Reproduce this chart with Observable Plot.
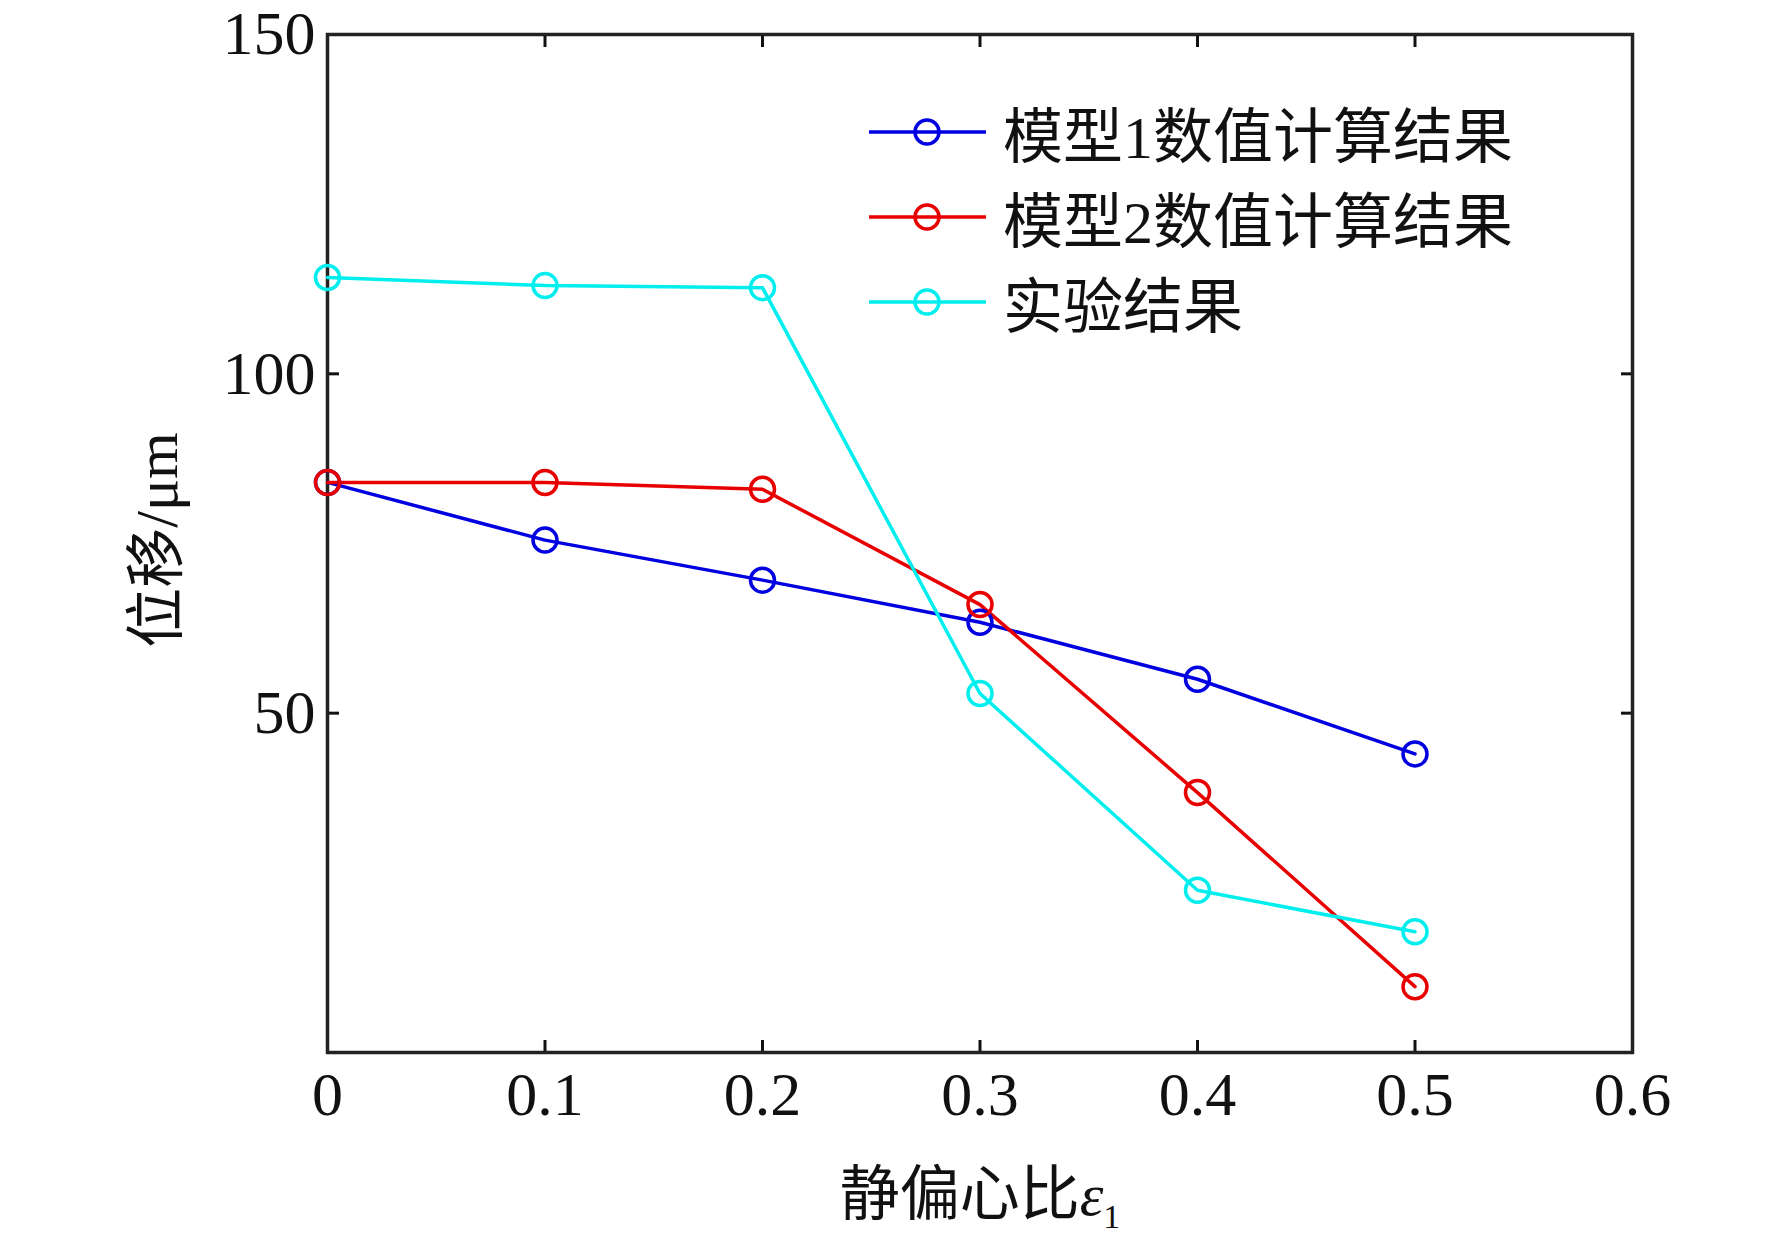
<!DOCTYPE html>
<html><head><meta charset="utf-8">
<script src="https://cdn.jsdelivr.net/npm/d3@7"></script>
<script src="https://cdn.jsdelivr.net/npm/@observablehq/plot@0.6"></script>
<style>
body{margin:0;background:#fff;font-family:"Liberation Serif","Noto Sans CJK SC",serif;}
#wrap{position:relative;width:1772px;height:1240px;}
.lbl{position:absolute;font-size:60px;color:#111;white-space:nowrap;}
.leg{position:absolute;left:869px;font-size:60px;display:flex;align-items:center;color:#111;}
</style></head><body>
<div id="wrap"></div>
<script>
const eps = [0, 0.1, 0.2, 0.3, 0.4, 0.5];
const model1 = [84, 75.5, 69.6, 63.4, 55, 44];
const model2 = [84, 84, 83, 66, 38.3, 9.7];
const experiment = [114.2, 113, 112.7, 52.9, 23.9, 17.8];
const seriesNames = ["模型1数值计算结果", "模型2数值计算结果", "实验结果"];
const colors = ["#0000e0", "#e80000", "#00eeee"];
const xTicks = [0, 0.1, 0.2, 0.3, 0.4, 0.5, 0.6];
const yTicks = [50, 100, 150];

const data = [];
[model1, model2, experiment].forEach((arr, si) => arr.forEach((v, i) => data.push({x: eps[i], y: v, s: seriesNames[si]})));

const chart = Plot.plot({
  width: 1772, height: 1240,
  marginLeft: 327, marginRight: 140, marginTop: 34, marginBottom: 188,
  style: {fontFamily: "Liberation Serif", fontSize: "62px", color: "#111"},
  x: {domain: [0, 0.6]},
  y: {domain: [0, 150]},
  color: {domain: seriesNames, range: colors},
  marks: [
    Plot.axisX({ticks: xTicks, tickSize: -12, tickPadding: 30, tickFormat: d => d === 0 ? "0" : String(d), label: null, strokeWidth: 3}),
    Plot.axisX({anchor: "top", ticks: xTicks, tickSize: -12, tickFormat: () => "", label: null, strokeWidth: 3}),
    Plot.axisY({ticks: yTicks, tickSize: -12, tickPadding: 24, label: null, strokeWidth: 3}),
    Plot.axisY({anchor: "right", ticks: yTicks, tickSize: -12, tickFormat: () => "", label: null, strokeWidth: 3}),
    Plot.frame({stroke: "#222", strokeWidth: 3.5}),
    Plot.line(data, {x: "x", y: "y", z: "s", stroke: "s", strokeWidth: 3.5}),
    Plot.dot(data, {x: "x", y: "y", stroke: "s", r: 12, strokeWidth: 3.5, fill: "none"})
  ]
});
const wrap = document.getElementById("wrap");
chart.style.position = "absolute"; chart.style.left = "0"; chart.style.top = "0";
wrap.appendChild(chart);

const ylab = document.createElement("div");
ylab.className = "lbl"; ylab.textContent = "位移/μm";
ylab.style.left = "150px"; ylab.style.top = "540px";
ylab.style.transform = "translate(-50%,-50%) rotate(-90deg)";
wrap.appendChild(ylab);

const xlab = document.createElement("div");
xlab.className = "lbl"; xlab.innerHTML = "静偏心比<i>ε</i><sub style='font-size:34px'>1</sub>";
xlab.style.left = "980px"; xlab.style.top = "1190px";
xlab.style.transform = "translate(-50%,-50%)";
wrap.appendChild(xlab);

const legY = [123, 208, 293];
seriesNames.forEach((n, i) => {
  const d = document.createElement("div");
  d.className = "leg"; d.style.top = (legY[i] - 35) + "px";
  d.innerHTML = `<svg width="120" height="70"><line x1="0" x2="117" y1="35" y2="35" stroke="${colors[i]}" stroke-width="3.5"/><circle cx="58" cy="35" r="12" stroke="${colors[i]}" stroke-width="3.5" fill="none"/></svg><span style="margin-left:14px">${n}</span>`;
  wrap.appendChild(d);
});
</script></body></html>
